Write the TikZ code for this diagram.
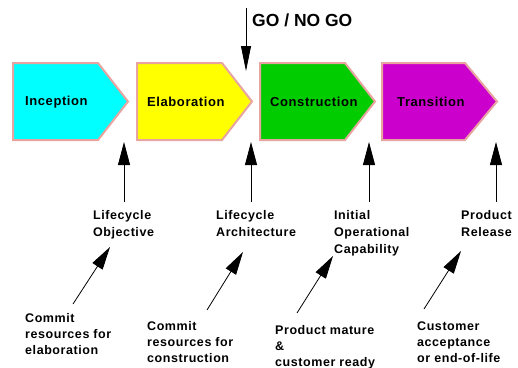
\documentclass[tikz,border=0pt]{standalone}
\usepackage{fontspec}
\setmainfont[LetterSpace=4.5]{Liberation Sans}
\newfontfamily\gofont{Liberation Sans}
\usetikzlibrary{arrows.meta}
\definecolor{pinkb}{HTML}{E8A4A0}
\definecolor{cyanf}{HTML}{00FFFF}
\definecolor{yellowf}{HTML}{FFFF00}
\definecolor{greenf}{HTML}{00CC00}
\definecolor{magf}{HTML}{CC00CC}
\begin{document}
\begin{tikzpicture}[x=1pt,y=-1pt,
  phase/.style={draw=pinkb, line width=2pt, line join=miter},
  plabel/.style={anchor=west, inner sep=0, font=\fontsize{13}{15}\selectfont\bfseries},
  mlabel/.style={anchor=north west, align=left, inner sep=0, font=\fontsize{12.5}{17}\selectfont\bfseries},
  blabel/.style={anchor=north west, align=left, inner sep=0, font=\fontsize{12.5}{16}\selectfont\bfseries},
  arr/.style={-{Triangle[length=23pt,width=12pt]}, line width=0.8pt},
  goarr/.style={-{Triangle[length=25pt,width=10pt]}, line width=0.8pt}]
\useasboundingbox (0,0) rectangle (518,367);
% phases
\draw[phase, fill=cyanf]   (13,63) -- (98,63) -- (128,101.5) -- (98,140) -- (13,140) -- cycle;
\draw[phase, fill=yellowf] (137,63) -- (222,63) -- (252,101.5) -- (222,140) -- (137,140) -- cycle;
\draw[phase, fill=greenf]  (260,63) -- (345,63) -- (375,101.5) -- (345,140) -- (260,140) -- cycle;
\draw[phase, fill=magf]    (382,63) -- (465,63) -- (497,101.5) -- (465,140) -- (382,140) -- cycle;
\node[plabel] (inc) at (25,102) {Inception};
\node[plabel] (ela) at (147,102) {Elaboration};
\node[plabel] (con) at (270,102) {Construction};
\node[plabel] (tra) at (397,102) {Transition};
% go / no go
\node[anchor=north west, inner sep=0, font=\gofont\fontsize{17.5}{20}\selectfont\bfseries] (go) at (252,13.5) {GO / NO GO};
\coordinate (gotop) at (246,8);
\coordinate (gotip) at (246,71);
\draw[goarr] (gotop) -- (gotip);
% milestones
\node[mlabel] (lco) at (93,210.5) {Lifecycle\\Objective};
\node[mlabel] (lca) at (216,210.5) {Lifecycle\\Architecture};
\node[mlabel] (ioc) at (334,210.5) {Initial\\Operational\\Capability};
\node[mlabel] (pr)  at (461,210.5) {Product\\Release};
\foreach \i/\x in {1/124,2/251,3/369,4/496}{
  \coordinate (mt\i) at (\x,202);
  \coordinate (mh\i) at (\x,142);
  \draw[arr] (mt\i) -- (mh\i);
}
% bottom labels
\node[blabel] (b1) at (25,313.5) {Commit\\resources for\\elaboration};
\node[blabel] (b2) at (147,321.5) {Commit\\resources for\\construction};
\node[blabel] (b3) at (275,325.5) {Product mature\\\&\\customer ready};
\node[blabel] (b4) at (417,321.5) {Customer\\acceptance\\or end-of-life};
\coordinate (d1t) at (73,304);  \coordinate (d1h) at (110,247);
\coordinate (d2t) at (207,310); \coordinate (d2h) at (243,252);
\coordinate (d3t) at (297,313); \coordinate (d3h) at (333,256);
\coordinate (d4t) at (424,309); \coordinate (d4h) at (461,251);
\draw[arr] (d1t) -- (d1h);
\draw[arr] (d2t) -- (d2h);
\draw[arr] (d3t) -- (d3h);
\draw[arr] (d4t) -- (d4h);
\end{tikzpicture}
\end{document}
